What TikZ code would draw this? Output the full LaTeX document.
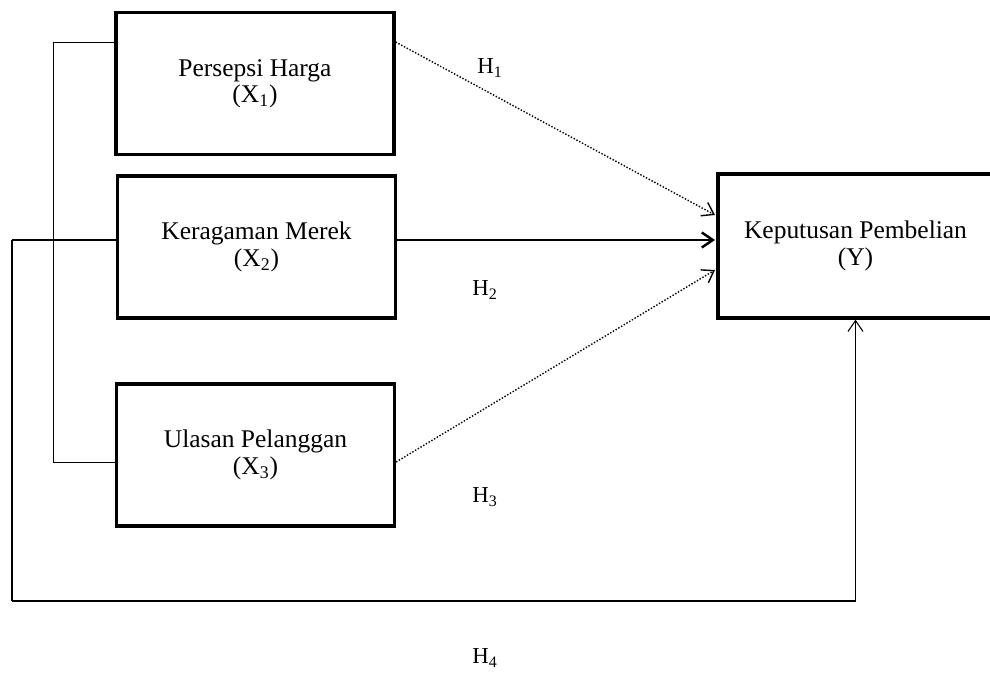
\documentclass[tikz,border=0pt]{standalone}
\usepackage{fontspec}
\setmainfont{Liberation Serif}
\usetikzlibrary{arrows.meta}

\begin{document}
\begin{tikzpicture}[
    >={Straight Barb[length=2.2mm, width=3mm]},
    var/.style={draw, line width=1.8pt, minimum width=5.56cm, minimum height=2.84cm, align=center, font=\fontsize{14.5}{15}\selectfont},
    hyp/.style={font=\fontsize{13}{15}\selectfont}
]
    \useasboundingbox (0,0) rectangle (19.8,-13.46);

    % variabel
    \node[var] (X1) at (5.1,-1.67) {Persepsi Harga\\(X\textsubscript{1})};
    \node[var] (X2) at (5.13,-4.94) {Keragaman Merek\\(X\textsubscript{2})};
    \node[var] (X3) at (5.11,-9.1) {Ulasan Pelanggan\\(X\textsubscript{3})};
    \node[var, minimum width=5.5cm, minimum height=2.88cm] (Y) at (17.11,-4.92) {Keputusan Pembelian\\(Y)};

    % titik bantu
    \coordinate (a1) at (1.06,-0.84);
    \coordinate (a3) at (1.06,-9.24);
    \coordinate (b1) at (0.24,-4.8);
    \coordinate (b2) at (0.24,-12.02);
    \coordinate (y1) at (14.3,-4.3);
    \coordinate (y2) at (14.3,-4.8);
    \coordinate (y3) at (14.3,-5.4);

    % hubungan
    \draw[thin] (X1.west |- a1) -- (a1) -- (a3) -- (X3.west |- a3);
    \draw[line width=1.4pt] (b1) -- (X2.west |- b1);
    \draw[thick, densely dotted, ->] (X1.east |- a1) -- (y1);
    \draw[line width=1.4pt, ->] (X2.east |- y2) -- (y2);
    \draw[thick, densely dotted, ->] (X3.east |- a3) -- (y3);
    \draw[thick] (b1) -- (b2);
    \draw[semithick, ->] (b2) -- (b2 -| Y.south) -- (Y.south);

    % hipotesis
    \node[hyp] (h1) at (9.8,-1.36) {H\textsubscript{1}};
    \node[hyp] (h2) at (9.7,-5.8) {H\textsubscript{2}};
    \node[hyp] (h3) at (9.7,-9.94) {H\textsubscript{3}};
    \node[hyp] (h4) at (9.7,-13.16) {H\textsubscript{4}};
\end{tikzpicture}
\end{document}
